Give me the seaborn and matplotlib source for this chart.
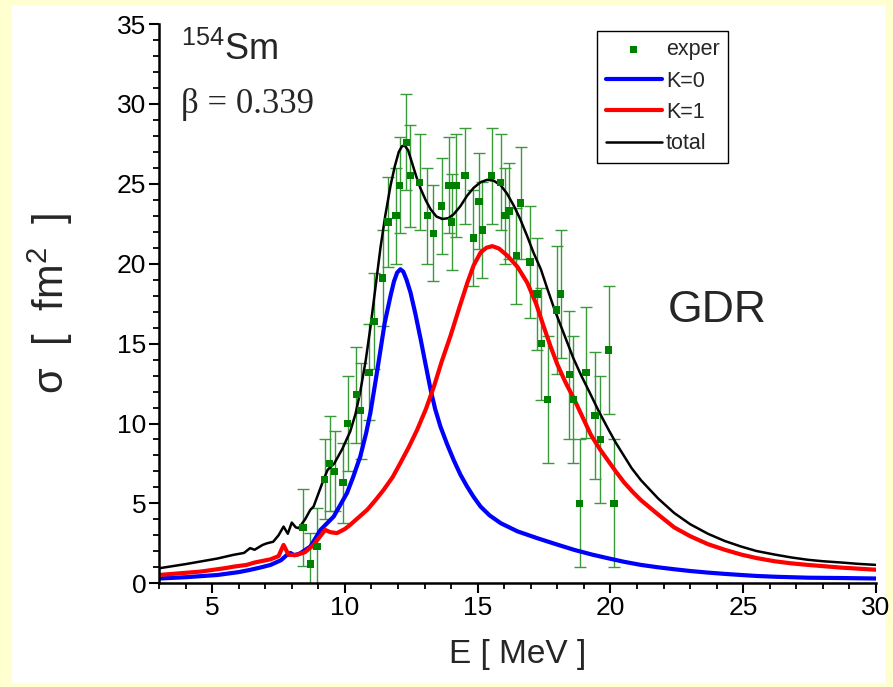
import pandas as pd
import matplotlib
matplotlib.use('Agg')
import matplotlib.pyplot as plt
import seaborn as sns
from matplotlib.ticker import MultipleLocator
from matplotlib.patches import Rectangle

# experimental points: energy (MeV), cross section (fm^2), error
exp_e = [8.42, 8.70, 8.95, 9.24, 9.43, 9.62, 9.93, 10.10, 10.43, 10.60,
         10.91, 11.09, 11.42, 11.63, 11.93, 12.06, 12.32, 12.47, 12.82, 13.10,
         13.33, 13.64, 13.92, 14.02, 14.20, 14.52, 14.84, 15.05, 15.18, 15.53,
         15.87, 16.03, 16.18, 16.46, 16.62, 16.97, 17.23, 17.40, 17.63, 17.98,
         18.13, 18.45, 18.60, 18.84, 19.08, 19.42, 19.62, 19.93, 20.13]
exp_s = [3.5, 1.2, 2.3, 6.5, 7.5, 7.0, 6.3, 10.0, 11.8, 10.8,
         13.2, 16.4, 19.1, 22.6, 23.0, 24.9, 27.6, 25.5, 25.1, 23.0,
         21.9, 23.6, 24.9, 22.6, 24.9, 25.5, 21.6, 23.9, 22.1, 25.5,
         25.1, 23.0, 23.3, 20.5, 23.8, 20.1, 18.1, 15.0, 11.5, 17.1,
         18.1, 13.05, 11.5, 5.0, 13.2, 10.5, 9.0, 14.6, 5.0]
exp_err = [2.4, 1.95, 2.4, 2.5, 3.0, 2.5, 2.5, 3.0, 3.0, 3.0,
           3.0, 3.0, 3.0, 2.8, 3.0, 3.0, 3.0, 3.2, 3.0, 3.0,
           3.0, 3.0, 3.0, 3.0, 3.2, 3.0, 3.0, 3.0, 3.0, 3.0,
           3.0, 3.0, 3.0, 3.0, 3.5, 3.5, 3.5, 3.5, 4.0, 4.0,
           4.0, 4.0, 4.0, 4.0, 4.1, 4.0, 4.0, 4.0, 4.0]

# K=0 component
k0_e = [3.0, 4.0, 5.2, 6.0, 6.4, 6.8, 7.2, 7.6, 7.8, 7.95, 8.1, 8.32, 8.7,
        9.08, 9.58, 10.08, 10.3, 10.58, 10.8, 10.96, 11.15, 11.34, 11.5, 11.72,
        11.85, 11.97, 12.09, 12.2, 12.32, 12.47, 12.65, 12.85, 13.05, 13.23,
        13.4, 13.6, 13.85, 14.1, 14.35, 14.6, 14.85, 15.11, 15.45, 15.87,
        16.5, 17.25, 18.0, 18.64, 19.3, 19.9, 20.5, 21.15, 21.8, 22.4, 23.0,
        23.67, 24.3, 24.92, 25.5, 26.2, 27.44, 28.7, 30.0]
k0_s = [0.30, 0.38, 0.52, 0.70, 0.83, 0.98, 1.15, 1.45, 1.75, 1.90, 1.75, 1.88, 2.3,
        3.34, 4.18, 5.65, 6.6, 7.94, 9.4, 10.67, 12.6, 14.6, 16.3, 18.0,
        18.9, 19.45, 19.65, 19.5, 19.0, 18.2, 16.9, 15.3, 13.6, 12.1,
        10.9, 9.8, 8.7, 7.7, 6.8, 6.06, 5.4, 4.8, 4.25, 3.76,
        3.25, 2.82, 2.42, 2.09, 1.8, 1.57, 1.35, 1.15, 1.0, 0.88, 0.77,
        0.67, 0.59, 0.52, 0.46, 0.41, 0.35, 0.33, 0.30]

# K=1 component
k1_e = [3.0, 4.55, 5.5, 5.8, 6.3, 6.6, 6.9, 7.2, 7.5, 7.69, 7.88, 8.2, 8.5,
        8.82, 9.05, 9.26, 9.45, 9.7, 10.0, 10.2, 10.5, 10.84, 11.15, 11.46,
        11.8, 12.09, 12.4, 12.72, 13.05, 13.35, 13.65, 13.98, 14.3, 14.61,
        14.85, 15.11, 15.33, 15.55, 15.8, 16.12, 16.5, 16.87, 17.2, 17.5,
        17.75, 18.0, 18.3, 18.64, 18.95, 19.26, 19.6, 19.9, 20.2, 20.52,
        20.85, 21.15, 21.8, 22.4, 23.0, 23.67, 24.3, 24.92, 25.5, 26.18,
        26.8, 27.44, 28.7, 30.0]
k1_s = [0.52, 0.73, 0.95, 1.04, 1.15, 1.30, 1.40, 1.50, 1.70, 2.40, 1.78, 1.78, 1.95,
        2.4, 2.9, 3.34, 3.2, 3.14, 3.4, 3.66, 4.1, 4.6, 5.2, 5.85,
        6.65, 7.53, 8.5, 9.6, 10.9, 12.3, 13.9, 15.5, 17.2, 18.8,
        19.9, 20.7, 21.0, 21.1, 20.95, 20.5, 19.8, 18.8, 17.5, 16.0,
        14.8, 13.7, 12.6, 11.5, 10.4, 9.3, 8.4, 7.7, 7.0, 6.3,
        5.7, 5.2, 4.3, 3.5, 2.95, 2.45, 2.1, 1.8, 1.58, 1.38,
        1.25, 1.15, 0.98, 0.85]

# total
tot_e = [3.0, 4.0, 4.55, 5.2, 5.8, 6.2, 6.43, 6.6, 6.9, 7.06, 7.3, 7.5, 7.69,
         7.85, 8.0, 8.15, 8.26, 8.5, 8.7, 8.82, 9.2, 9.35, 9.6, 9.9, 10.2,
         10.4, 10.58, 10.78, 10.96, 11.15, 11.34, 11.52, 11.72, 11.88, 12.03,
         12.15, 12.25, 12.38, 12.53, 12.7, 12.85, 13.05, 13.23, 13.45, 13.67,
         13.9, 14.1, 14.35, 14.6, 14.85, 15.11, 15.36, 15.6, 15.87, 16.1,
         16.37, 16.6, 16.87, 17.1, 17.38, 17.63, 17.9, 18.25, 18.6, 18.9,
         19.2, 19.55, 19.9, 20.2, 20.5, 20.8, 21.15, 21.8, 22.4, 23.0,
         23.67, 24.3, 24.92, 25.5, 26.18, 26.8, 27.44, 28.0, 28.7, 29.3, 30.0]
tot_s = [0.94, 1.2, 1.36, 1.55, 1.78, 1.9, 2.2, 2.1, 2.4, 2.5, 2.6, 3.0, 3.55,
         3.1, 3.8, 3.5, 3.45, 4.0, 4.6, 4.8, 6.5, 7.1, 7.5, 8.4, 9.5,
         10.6, 12.0, 13.9, 16.0, 18.5, 21.0, 23.0, 24.9, 26.1, 27.0,
         27.35, 27.4, 27.1, 26.3, 25.4, 24.7, 23.95, 23.4, 22.95, 22.8,
         22.85, 23.1, 23.6, 24.25, 24.75, 25.1, 25.25, 25.2, 24.9, 24.4,
         23.6, 22.8, 21.7, 20.7, 19.65, 18.4, 17.1, 15.6, 14.1, 13.0,
         12.0, 10.8, 9.7, 8.8, 8.0, 7.2, 6.45, 5.3, 4.4, 3.7,
         3.1, 2.65, 2.3, 2.02, 1.8, 1.62, 1.47, 1.38, 1.3, 1.22, 1.15]

sns.set_theme(style='ticks')
plt.rcParams['font.family'] = ['Liberation Sans', 'DejaVu Sans']
plt.rcParams['mathtext.fontset'] = 'custom'
plt.rcParams['mathtext.rm'] = 'Liberation Sans'
plt.rcParams['mathtext.it'] = 'Liberation Sans'

fig = plt.figure(figsize=(8.93, 6.87), dpi=100, facecolor='#FFFFD0')
fig.patches.append(Rectangle((12 / 893, 4 / 687), 873 / 893, 678 / 687,
                             transform=fig.transFigure, facecolor='white',
                             edgecolor='none', zorder=-1))
ax = fig.add_axes([159 / 893, 1 - 583.3 / 687, 717 / 893, 559.3 / 687])
ax.set_facecolor('white')

ax.errorbar(exp_e, exp_s, yerr=exp_err, fmt='none', ecolor='#3a9a3a',
            elinewidth=1.0, capsize=4, capthick=1.0, zorder=1)
sns.lineplot(x=k0_e, y=k0_s, color='#0000FF', lw=3, label='K=0', ax=ax, zorder=2)
sns.lineplot(x=k1_e, y=k1_s, color='#FF0000', lw=3, label='K=1', ax=ax, zorder=2)
sns.lineplot(x=tot_e, y=tot_s, color='black', lw=1.8, label='total', ax=ax, zorder=3)
sns.scatterplot(x=exp_e, y=exp_s, marker='s', s=28, color='#008000',
                edgecolor='none', label='exper', ax=ax, zorder=4)

ax.set_xlim(3, 30)
ax.set_ylim(0, 35)
ax.xaxis.set_major_locator(MultipleLocator(5))
ax.xaxis.set_minor_locator(MultipleLocator(1))
ax.yaxis.set_major_locator(MultipleLocator(5))
ax.yaxis.set_minor_locator(MultipleLocator(1))
ax.tick_params(which='major', direction='out', length=7, width=1.5,
               labelsize=19, colors='black', pad=2)
ax.tick_params(which='minor', direction='out', length=4.5, width=1.3, colors='black')
sns.despine(ax=ax)
for sp in ['left', 'bottom']:
    ax.spines[sp].set_linewidth(1.8)
    ax.spines[sp].set_color('black')

ax.set_xlabel('E [ MeV ]', fontsize=24, labelpad=14)
ax.set_ylabel(r'σ  [  fm$^{2}$  ]', fontsize=30, labelpad=30)

ax.text(0.03, 0.935, r'$^{154}$Sm', transform=ax.transAxes, fontsize=26)
ax.text(0.03, 0.84, 'β = 0.339', transform=ax.transAxes, fontsize=25,
        family=['Liberation Serif', 'DejaVu Serif'])
ax.text(0.710, 0.467, 'GDR', transform=ax.transAxes, fontsize=32)

handles, labels = ax.get_legend_handles_labels()
order = ['exper', 'K=0', 'K=1', 'total']
hl = dict(zip(labels, handles))
leg = ax.legend([hl[k] for k in order], order, loc='upper left',
                bbox_to_anchor=(0.611, 0.988), borderaxespad=0, fontsize=15.5,
                frameon=True, fancybox=False, edgecolor='black', framealpha=1,
                handlelength=2.6, handletextpad=0.2, labelspacing=0.48,
                borderpad=0.4)
leg.get_frame().set_linewidth(1.0)

fig.savefig('out.png', dpi=100, facecolor=fig.get_facecolor())
